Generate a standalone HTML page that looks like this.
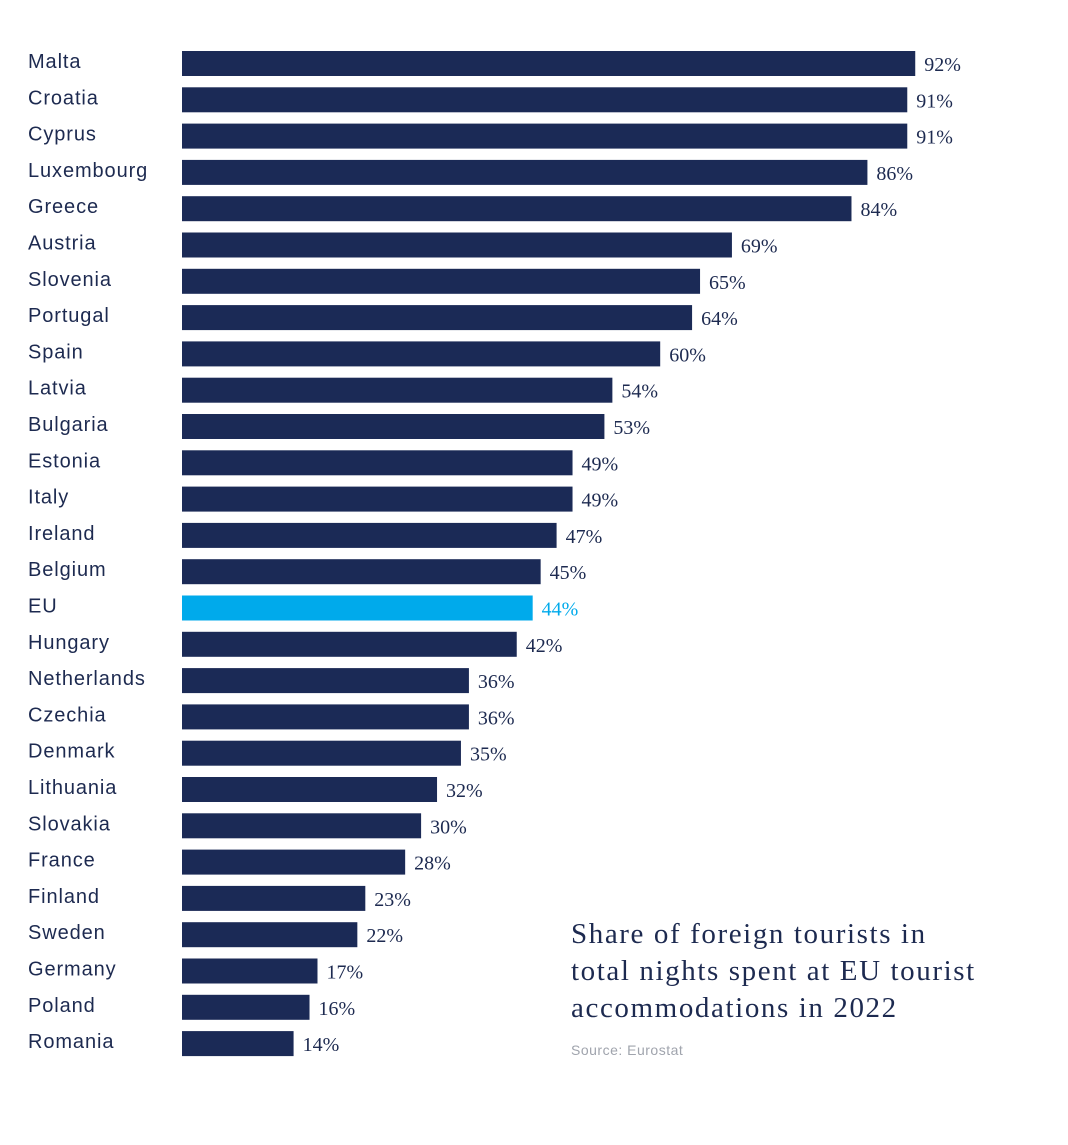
<!DOCTYPE html>
<html><head><meta charset="utf-8"><style>
html,body{margin:0;padding:0;background:#fff;}
body{width:1068px;height:1145px;position:relative;overflow:hidden;}
svg{position:absolute;left:0;top:0;}
</style></head><body>
<svg id="chart" width="1068" height="1145" viewBox="0 0 1068 1145">
<g id="bars"></g>
<g font-family="Liberation Serif, serif" font-size="29" fill="#1d2a50" letter-spacing="1.6">
<text x="571" y="943">Share of foreign tourists in</text>
<text x="571" y="980">total nights spent at EU tourist</text>
<text x="571" y="1017">accommodations in 2022</text>
</g>
<text x="571" y="1055" font-family="Liberation Sans, sans-serif" font-size="14" fill="#a0a4ad" letter-spacing="0.5">Source: Eurostat</text>
</svg>
<script>
const countries=["Malta","Croatia","Cyprus","Luxembourg","Greece","Austria","Slovenia","Portugal","Spain","Latvia","Bulgaria","Estonia","Italy","Ireland","Belgium","EU","Hungary","Netherlands","Czechia","Denmark","Lithuania","Slovakia","France","Finland","Sweden","Germany","Poland","Romania"];
const values=[92,91,91,86,84,69,65,64,60,54,53,49,49,47,45,44,42,36,36,35,32,30,28,23,22,17,16,14];
const highlight=["EU"];
const x0=182, pxPer=7.97, y0=51, pitch=36.3, bh=25;
const xs=v=>x0+v*pxPer;
const ys=i=>y0+i*pitch;
const g=document.getElementById('bars');
const NS="http://www.w3.org/2000/svg";
countries.forEach((c,i)=>{
  const hl=highlight.includes(c);
  const col=hl?"#00aaeb":"#1b2a56";
  const lab=document.createElementNS(NS,'text');
  
  
  lab.setAttribute('x',28);lab.setAttribute('y',ys(i)+17);
  lab.setAttribute('font-family','Liberation Sans, sans-serif');lab.setAttribute('font-size','20');
  lab.setAttribute('letter-spacing','0.9');
  lab.setAttribute('fill','#1d2a50');lab.textContent=c;g.appendChild(lab);
  const r=document.createElementNS(NS,'rect');
  
  
  r.setAttribute('x',x0);r.setAttribute('y',ys(i));r.setAttribute('width',xs(values[i])-x0);r.setAttribute('height',bh);r.setAttribute('fill',col);
  g.appendChild(r);
  const v=document.createElementNS(NS,'text');
  
  
  v.setAttribute('x',xs(values[i])+9);v.setAttribute('y',ys(i)+20);
  v.setAttribute('font-family','Liberation Serif, serif');v.setAttribute('font-size','20');
  v.setAttribute('fill',hl?"#00aaeb":"#1d2a50");v.textContent=values[i]+"%";g.appendChild(v);
});
</script>
</body></html>
